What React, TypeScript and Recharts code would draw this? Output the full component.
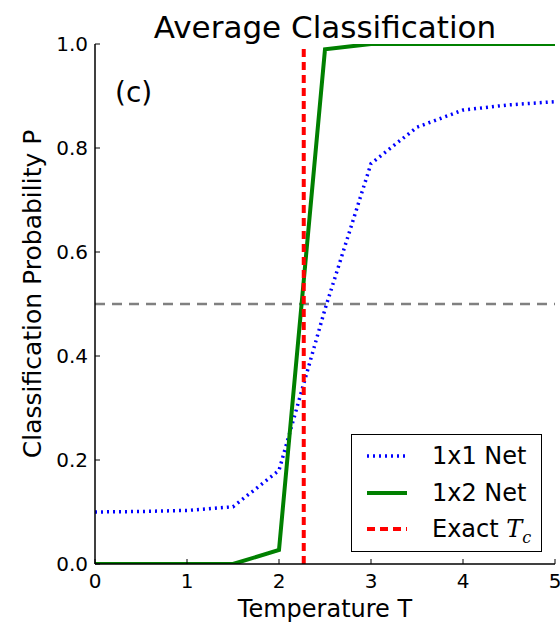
import React from 'react';
import { LineChart, Line, XAxis, YAxis, ReferenceLine, Legend, Label } from 'recharts';

// Temperatures sampled by the networks and the averaged classification output
const temperatures = [0, 0.5, 1, 1.5, 2, 2.5, 3, 3.5, 4, 4.5, 5];
const net1x1 = [0.1, 0.101, 0.103, 0.11, 0.18, 0.49, 0.77, 0.84, 0.873, 0.883, 0.889];
const net1x2 = [0, 0, 0, 0, 0.027, 0.99, 1, 1, 1, 1, 1];

const xTicks = [0, 1, 2, 3, 4, 5];
const yTicks = [0, 0.2, 0.4, 0.6, 0.8, 1.0];

const exactTc = 2.269;
const threshold = 0.5;

const FONT = '"DejaVu Sans", sans-serif';

const data = temperatures.map((t, i) => ({ t, net1x1: net1x1[i], net1x2: net1x2[i] }));

const legendItems = [
  { key: 'a', text: <>1x1 Net</>, color: '#0000ff', width: 3.5, dash: '2 4' },
  { key: 'b', text: <>1x2 Net</>, color: '#008000', width: 4, dash: undefined },
  {
    key: 'c',
    text: (
      <>
        Exact{' '}
        <span style={{ fontFamily: '"DejaVu Serif", serif', fontStyle: 'italic' }}>T</span>
        <span style={{ fontFamily: '"DejaVu Serif", serif', fontStyle: 'italic', fontSize: 16, position: 'relative', top: 6 }}>c</span>
      </>
    ),
    color: '#ff0000',
    width: 4,
    dash: '8 5',
  },
];

function LegendBox() {
  return (
    <div
      style={{
        boxSizing: 'border-box',
        width: 191,
        height: 118,
        border: '1.5px solid #000',
        background: '#fff',
        paddingTop: 3,
        fontFamily: FONT,
      }}
    >
      {legendItems.map((item) => (
        <div key={item.key} style={{ display: 'flex', alignItems: 'center', height: 36.5 }}>
          <svg width={80} height={20} style={{ flex: 'none' }}>
            <line
              x1={15}
              x2={55}
              y1={10}
              y2={10}
              stroke={item.color}
              strokeWidth={item.width}
              strokeDasharray={item.dash}
            />
          </svg>
          <span style={{ fontSize: 24, color: '#000', lineHeight: 1, whiteSpace: 'nowrap' }}>{item.text}</span>
        </div>
      ))}
    </div>
  );
}

const YLabel = (props: any) => {
  const { x, y, height } = props.viewBox;
  const cx = x + 41;
  const cy = y + height / 2 - 10;
  return (
    <text
      x={cx}
      y={cy}
      transform={`rotate(-90 ${cx} ${cy})`}
      textAnchor="middle"
      fontSize={25}
      fill="#000"
      fontFamily={FONT}
    >
      Classification Probability P
    </text>
  );
};

const NoTick = () => <g />;

export default function App() {
  return (
    <div style={{ position: 'absolute', left: 0, top: 0, width: 560, height: 622, fontFamily: FONT }}>
      <LineChart
        width={560}
        height={622}
        data={data}
        margin={{ top: 44, right: 5, bottom: 0, left: 0 }}
        style={{ fontFamily: FONT }}
      >
        <XAxis
          dataKey="t"
          type="number"
          domain={[0, 5]}
          ticks={xTicks}
          height={58}
          tickSize={-5}
          tickMargin={15}
          tick={{ fontSize: 20, fill: '#000' }}
          tickLine={{ stroke: '#000', strokeWidth: 1 }}
          axisLine={{ stroke: '#000', strokeWidth: 1.5 }}
          allowDataOverflow
        >
          <Label value="Temperature T" position="insideBottom" offset={5} fontSize={24} fill="#000" />
        </XAxis>
        <XAxis
          xAxisId="top"
          orientation="top"
          dataKey="t"
          type="number"
          domain={[0, 5]}
          ticks={xTicks}
          height={0}
          tickSize={-5}
          tick={NoTick}
          tickLine={{ stroke: '#000', strokeWidth: 1 }}
          axisLine={{ stroke: '#000', strokeWidth: 1.5 }}
          allowDataOverflow
        />
        <YAxis
          type="number"
          domain={[0, 1]}
          ticks={yTicks}
          width={95}
          tickSize={-5}
          tickMargin={12}
          tickFormatter={(v: number) => v.toFixed(1)}
          tick={{ fontSize: 20, fill: '#000' }}
          tickLine={{ stroke: '#000', strokeWidth: 1 }}
          axisLine={{ stroke: '#000', strokeWidth: 1.5 }}
          allowDataOverflow
        >
          <Label content={YLabel} />
        </YAxis>
        <YAxis
          yAxisId="right"
          orientation="right"
          type="number"
          domain={[0, 1]}
          ticks={yTicks}
          width={0}
          tickSize={-5}
          tick={NoTick}
          tickLine={{ stroke: '#000', strokeWidth: 1 }}
          axisLine={{ stroke: '#000', strokeWidth: 1.5 }}
          allowDataOverflow
        />
        <ReferenceLine y={threshold} stroke="#808080" strokeWidth={2.5} strokeDasharray="10 7" />
        <Line
          type="linear"
          dataKey="net1x1"
          stroke="#0000ff"
          strokeWidth={3.5}
          strokeDasharray="2 4"
          dot={false}
          activeDot={false}
          isAnimationActive={false}
        />
        <Line
          type="linear"
          dataKey="net1x2"
          stroke="#008000"
          strokeWidth={4}
          dot={false}
          activeDot={false}
          isAnimationActive={false}
        />
        <ReferenceLine x={exactTc} stroke="#ff0000" strokeWidth={4} strokeDasharray="8 5" />
        <Legend
          layout="vertical"
          align="center"
          verticalAlign="middle"
          wrapperStyle={{ left: 351, top: 434, width: 191 }}
          content={() => <LegendBox />}
        />
      </LineChart>
      <div
        style={{
          position: 'absolute',
          left: 95,
          top: 11.8,
          width: 460,
          textAlign: 'center',
          fontSize: 31,
          lineHeight: 1,
          color: '#000',
          whiteSpace: 'nowrap',
        }}
      >
        Average Classification
      </div>
      <div style={{ position: 'absolute', left: 115, top: 76, fontSize: 28, lineHeight: 1.2, color: '#000' }}>(c)</div>
    </div>
  );
}
